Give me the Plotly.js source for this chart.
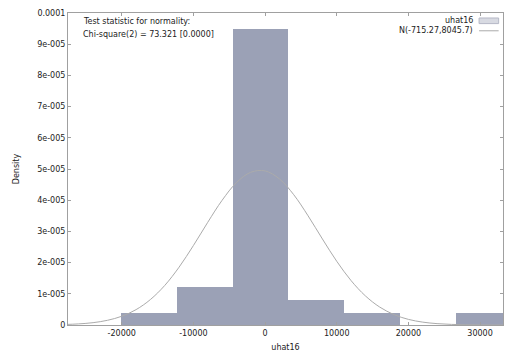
<!DOCTYPE html>
<html>
<head>
<meta charset="utf-8">
<script src="https://cdn.plot.ly/plotly-3.0.1.min.js"></script>
<style>
html,body{margin:0;padding:0;background:#fff;}
#chart{width:505px;height:352px;}
</style>
</head>
<body>
<div id="chart"></div>
<script>
// Histogram of uhat16 (bin centers, density heights)
const binCenters = [-16190, -8410, -630, 7150, 14930, 22710, 30490];
const binDensity = [4.0e-6, 1.21e-5, 9.5e-5, 8.0e-6, 4.0e-6, 0, 4.0e-6];
const binWidth = 7780;

// Normal density curve N(-715.27, 8045.7)
const curveX = [-28000,-26000,-24000,-22000,-20000,-18000,-16000,-14000,-12000,-10000,-8000,-6000,-4000,-2000,0,2000,4000,6000,8000,10000,12000,14000,16000,18000,20000,22000,24000,26000,28000,30000,32000,34000];
const curveY = [1.6e-7,3.6e-7,7.5e-7,1.50e-6,2.80e-6,4.93e-6,8.16e-6,1.268e-5,1.854e-5,2.547e-5,3.291e-5,3.996e-5,4.562e-5,4.895e-5,4.939e-5,4.683e-5,4.176e-5,3.500e-5,2.757e-5,2.042e-5,1.423e-5,9.32e-6,5.74e-6,3.32e-6,1.80e-6,9.2e-7,4.4e-7,2.0e-7,8.5e-8,3.4e-8,1.3e-8,4e-9];

// Tick labels
const yTickVals = [0,1e-5,2e-5,3e-5,4e-5,5e-5,6e-5,7e-5,8e-5,9e-5,1e-4];
const yTickText = ["0","1e-005","2e-005","3e-005","4e-005","5e-005","6e-005","7e-005","8e-005","9e-005","0.0001"];
const xTickVals = [-20000,-10000,0,10000,20000,30000];
const xTickText = ["-20000","-10000","0","10000","20000","30000"];

const seriesName = "uhat16";
const normalName = "N(-715.27,8045.7)";
const testLines = ["Test statistic for normality:", "Chi-square(2) = 73.321 [0.0000]"];

const barColor = "#9ba1b6";
const lineColor = "#ababab";
const fontFam = "DejaVu Sans, sans-serif";
const fs = 8;

const traces = [
  {
    type: "bar", x: binCenters, y: binDensity, width: binWidth,
    marker: {color: barColor, line: {width: 0}}, name: seriesName,
    showlegend: false, hoverinfo: "skip"
  },
  {
    type: "scatter", mode: "lines", x: curveX, y: curveY,
    line: {color: lineColor, width: 1, shape: "spline"}, name: normalName,
    showlegend: false, hoverinfo: "skip"
  }
];

const layout = {
  width: 505, height: 352,
  margin: {l: 68, r: 2, t: 13, b: 27, pad: 0},
  paper_bgcolor: "#fff", plot_bgcolor: "#fff",
  font: {family: fontFam, size: fs, color: "#222"},
  bargap: 0,
  xaxis: {
    range: [-27500, 33200], tickvals: xTickVals, ticktext: xTickText,
    showgrid: false, zeroline: false, showline: true, mirror: "ticks",
    linecolor: "#a0a0a0", linewidth: 1, ticks: "inside", ticklen: 3,
    tickcolor: "#a0a0a0", tickfont: {size: fs, color: "#222"},
    title: {text: seriesName, font: {size: fs, color: "#222"}, standoff: 8}
  },
  yaxis: {
    range: [0, 1e-4], tickvals: yTickVals, ticktext: yTickText,
    showgrid: false, zeroline: false, showline: true, mirror: "ticks",
    linecolor: "#a0a0a0", linewidth: 1, ticks: "inside", ticklen: 3,
    tickcolor: "#a0a0a0", tickfont: {size: fs, color: "#222"},
    title: {text: "Density", font: {size: fs, color: "#222"}, standoff: 16}
  },
  annotations: [
    {xref: "paper", yref: "paper", x: 0.03, y: 0.972, xanchor: "left", yanchor: "middle",
     text: testLines[0], showarrow: false, font: {size: fs, color: "#222"}},
    {xref: "paper", yref: "paper", x: 0.03, y: 0.93, xanchor: "left", yanchor: "middle",
     text: testLines[1], showarrow: false, font: {size: fs, color: "#222"}},
    {xref: "paper", yref: "paper", x: 0.935, y: 0.975, xanchor: "right", yanchor: "middle",
     text: seriesName, showarrow: false, font: {size: fs, color: "#222"}},
    {xref: "paper", yref: "paper", x: 0.935, y: 0.943, xanchor: "right", yanchor: "middle",
     text: normalName, showarrow: false, font: {size: fs, color: "#222"}}
  ],
  shapes: [
    {type: "rect", xref: "paper", yref: "paper", x0: 0.945, x1: 0.99, y0: 0.966, y1: 0.984,
     fillcolor: "#d8dae2", line: {color: "#b5b8c6", width: 1}},
    {type: "line", xref: "paper", yref: "paper", x0: 0.945, x1: 0.99, y0: 0.943, y1: 0.943,
     line: {color: lineColor, width: 1}}
  ]
};

Plotly.newPlot("chart", traces, layout, {displayModeBar: false, staticPlot: true});
</script>
</body>
</html>
